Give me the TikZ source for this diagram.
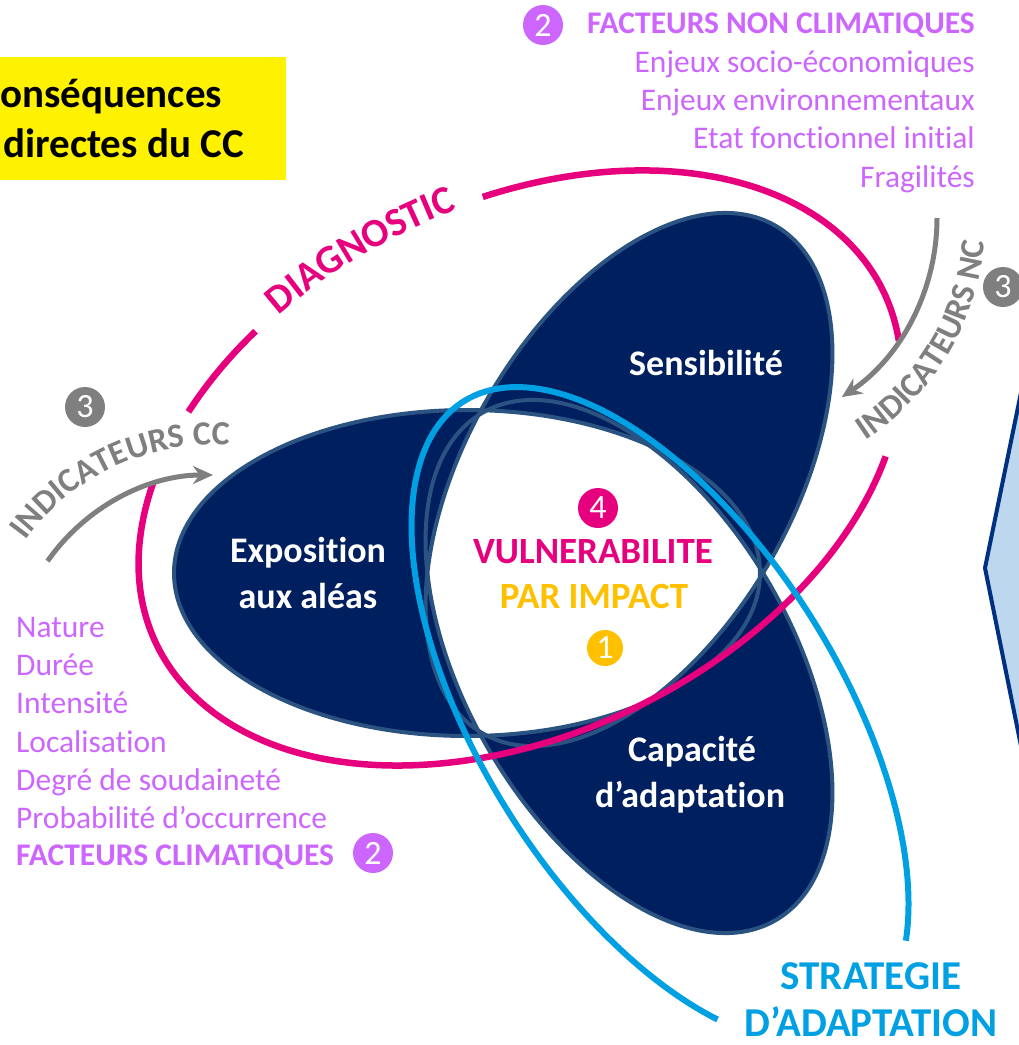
\documentclass[tikz,border=0pt]{standalone}
\usepackage{fontspec}
\setmainfont{Carlito}[RawFeature={-liga;-clig;-dlig;-calt;-rlig}]
\usetikzlibrary{decorations.text,arrows.meta}
\definecolor{navy}{HTML}{001F5F}
\definecolor{navyedge}{HTML}{2A5381}
\definecolor{mag}{HTML}{E6007E}
\definecolor{lav}{HTML}{CC66FF}
\definecolor{cyanl}{HTML}{00A0E3}
\definecolor{grayt}{HTML}{7F7F7F}
\definecolor{gold}{HTML}{FFC000}
\definecolor{lblue}{HTML}{BDD7EE}
\definecolor{dblue}{HTML}{00307F}
\newcommand{\myfs}[1]{\fontsize{#1}{#1}\selectfont}
\newcommand{\brk}{\kern0pt}
\begin{document}
\begin{tikzpicture}[x=1pt,y=1pt,
  lst/.style={inner sep=0pt, text=lav, font=\myfs{31.5}},
  lobetxt/.style={inner sep=0pt, text=white, font=\myfs{36}\bfseries, anchor=base},
  numc/.style={circle, fill=#1, text=white, minimum size=40pt, inner sep=0pt, font=\myfs{34}},
  pinkline/.style={mag, line width=6.5pt},
  grayarrow/.style={grayt, line width=5pt, -{Stealth[length=20pt,width=18pt]}},
  lobeedge/.style={navyedge, line width=4pt}]
\useasboundingbox (0,0) rectangle (1019,-1045);
\clip (0,0) rectangle (1019,-1045);

% right light-blue shape
\filldraw[fill=lblue, draw=dblue, line width=4pt] (1040,-300) -- (985,-568) -- (1040,-840) -- (1100,-840) -- (1100,-300) -- cycle;

% yellow box
\fill[yellow] (0,-57) rectangle (286,-180);
\node[inner sep=0pt, anchor=base west, font=\myfs{41}\bfseries] (y1) at (0,-107) {onséquences};
\node[inner sep=0pt, anchor=base west, font=\myfs{41}\bfseries] (y2) at (3,-157) {directes du CC};

% lobes
\fill[navy] (467,-573) ellipse (293 and 163);
\fill[navy, shift={(629,-479.5)}, rotate=60] (0,0) ellipse (293 and 163);
\fill[navy, shift={(629,-666.5)}, rotate=-60] (0,0) ellipse (293 and 163);
\begin{scope}
  \clip (467,-573) ellipse (293 and 163);
  \clip[shift={(629,-479.5)}, rotate=60] (0,0) ellipse (293 and 163);
  \fill[white, shift={(629,-666.5)}, rotate=-60] (0,0) ellipse (293 and 163);
\end{scope}
\draw[lobeedge] (467,-573) ellipse (293 and 163);
\draw[lobeedge, shift={(629,-479.5)}, rotate=60] (0,0) ellipse (293 and 163);
\draw[lobeedge, shift={(629,-666.5)}, rotate=-60] (0,0) ellipse (293 and 163);

% lobe labels
\node[lobetxt] (sens) at (706,-375) {Sensibilité};
\node[lobetxt] (expo1) at (308,-562) {Exposit\brk ion};
\node[lobetxt] (expo2) at (308,-608) {aux aléas};
\node[lobetxt] (cap1) at (692,-761) {Capacité};
\node[lobetxt] (cap2) at (690,-807) {d’adaptat\brk ion};

% centre
\node[numc=mag] (n4) at (598,-508) {4};
\node[inner sep=0pt, anchor=base, text=mag, font=\myfs{37}\bfseries] (vul) at (593,-563) {VULNERABILITE};
\node[inner sep=0pt, anchor=base, text=gold, font=\myfs{37}\bfseries] (imp) at (594,-608) {PAR IMPACT};
\node[numc=gold, minimum size=36pt] (n1) at (605,-648) {1};

% pink diagnostic ellipse
\begin{scope}[shift={(520,-468)}, rotate=26]
  \draw[pinkline] (-11.2:404 and 266) arc[start angle=-11.2, end angle=77.8, x radius=404, y radius=266];
  \draw[pinkline] (146.4:404 and 266) arc[start angle=146.4, end angle=325.7, x radius=404, y radius=266];
  \draw[pinkline] (116.1:404 and 266) arc[start angle=116.1, end angle=132.6, x radius=404, y radius=266];
  \path[decorate, decoration={text along path, text align=center, raise=-4pt,
     text={|\myfs{40}\bfseries\color{mag}|DIAGNOSTIC}}]
     (116.5:404 and 266) arc[start angle=116.5, end angle=77.5, x radius=404, y radius=266];
\end{scope}

% cyan strategy ellipse
\begin{scope}[shift={(660,-715)}, rotate=-58]
  \draw[cyanl, line width=6pt] (29.6:370 and 180) arc[start angle=29.6, end angle=321.3, x radius=370, y radius=180];
\end{scope}
\node[inner sep=0pt, anchor=base, text=cyanl, font=\myfs{41}\bfseries] (strat1) at (871,-989) {STRATEGIE};
\node[inner sep=0pt, anchor=base, text=cyanl, font=\myfs{41}\bfseries] (strat2) at (871,-1036) {D’ADAPTATION};

% indicators CC
\draw[grayarrow] ([shift={(145:202)}]213,-677) arc[start angle=145, end angle=90, radius=202];
\path[decorate, decoration={text along path, text align=center,
   text={|\myfs{34}\bfseries\color{grayt}|INDICATEURS CC}}]
   ([shift={(147:232)}]213,-677) arc[start angle=147, end angle=83, radius=232];
\node[numc=grayt] (n3a) at (85,-407) {3};

% indicators NC
\draw[grayarrow] ([shift={(0:216)}]721,-218) arc[start angle=0, end angle=-56, radius=216];
\path[decorate, decoration={text along path, text align=center,
   text={|\myfs{34}\bfseries\color{grayt}|INDICATEURS NC}}]
   ([shift={(-59:265)}]721,-218) arc[start angle=-59, end angle=-3, radius=265];
\node[numc=grayt] (n3b) at (1003,-287) {3};

% non climatic factors
\node[numc=lav] (n2a) at (543,-25) {2};
\node[lst, font=\myfs{31.5}\bfseries, anchor=base east] (nch) at (975,-33) {FACTEURS NON CLIMATIQUES};
\node[lst, anchor=base east] (nc1) at (975,-72) {Enjeux socio-économiques};
\node[lst, anchor=base east] (nc2) at (975,-110) {Enjeux environnementaux};
\node[lst, anchor=base east] (nc3) at (975,-148) {Etat fonct\brk ionnel init\brk ial};
\node[lst, anchor=base east] (nc4) at (975,-187) {Fragilités};

% climatic factors
\node[lst, anchor=base west] (c1) at (16,-637) {Nature};
\node[lst, anchor=base west] (c2) at (16,-675) {Durée};
\node[lst, anchor=base west] (c3) at (16,-713) {Intensité};
\node[lst, anchor=base west] (c4) at (16,-752) {Localisat\brk ion};
\node[lst, anchor=base west] (c5) at (16,-790) {Degré de soudaineté};
\node[lst, anchor=base west] (c6) at (16,-828) {Probabilité d’occurrence};
\node[lst, font=\myfs{31.5}\bfseries, anchor=base west] (ch) at (16,-865) {FACTEURS CLIMATIQUES};
\node[numc=lav] (n2b) at (373,-853) {2};
\end{tikzpicture}
\end{document}
